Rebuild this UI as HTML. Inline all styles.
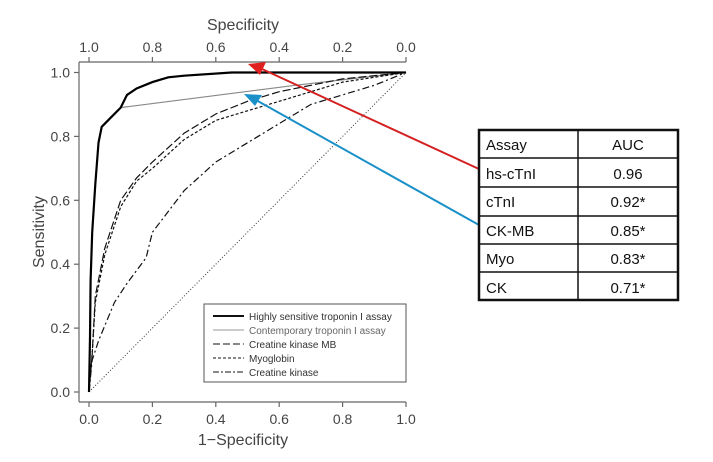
<!DOCTYPE html>
<html><head><meta charset="utf-8"><style>
body{margin:0;background:#fff;width:713px;height:457px;overflow:hidden;font-family:"Liberation Sans",sans-serif}
</style></head><body>
<svg id="s" width="713" height="457" viewBox="0 0 713 457" xmlns="http://www.w3.org/2000/svg" font-family="Liberation Sans, sans-serif">
<rect width="713" height="457" fill="#fff"/>
<g stroke="#666" stroke-width="1.2" fill="none">
<line x1="79" y1="62" x2="406" y2="62"/>
<line x1="79" y1="62" x2="79" y2="402"/>
<line x1="79" y1="402" x2="406" y2="402"/>
</g>
<g id="ticks" stroke="#666" stroke-width="1.2"></g>
<g id="labels" fill="#444" font-size="14"></g>
<text x="243" y="30" font-size="16" fill="#444" text-anchor="middle">Specificity</text>
<text x="243" y="445" font-size="16" fill="#444" text-anchor="middle">1−Specificity</text>
<text transform="translate(44,232) rotate(-90)" font-size="16" fill="#444" text-anchor="middle">Sensitivity</text>
<g id="curves" fill="none"></g>
<rect x="204" y="304" width="202" height="78" fill="#fff" stroke="#555" stroke-width="1"/>
<g stroke="#111" fill="none">
<line x1="213" y1="316" x2="244" y2="316" stroke-width="2"/>
<line x1="213" y1="330" x2="244" y2="330" stroke="#999" stroke-width="1"/>
<line x1="213" y1="344" x2="244" y2="344" stroke-dasharray="7,3"/>
<line x1="213" y1="358" x2="244" y2="358" stroke-dasharray="3,2"/>
<line x1="213" y1="372" x2="244" y2="372" stroke-dasharray="6,2,2,2"/>
</g>
<g font-size="10" fill="#333">
<text x="249" y="320">Highly sensitive troponin I assay</text>
<text x="249" y="334" fill="#666">Contemporary troponin I assay</text>
<text x="249" y="348">Creatine kinase MB</text>
<text x="249" y="362">Myoglobin</text>
<text x="249" y="376">Creatine kinase</text>
</g>
<line x1="479" y1="169" x2="262" y2="69" stroke="#d42020" stroke-width="2"/>
<polygon points="248,64 266,62 260,75" fill="#e02020"/>
<line x1="479" y1="225" x2="256" y2="100" stroke="#1a90c8" stroke-width="2"/>
<polygon points="244,94 262,95 255,106" fill="#1a90c8"/>
<g stroke="#111" fill="none">
<rect x="479" y="130" width="199" height="170" stroke-width="2.5"/>
<line x1="578" y1="130" x2="578" y2="300" stroke-width="1.5"/>
<line x1="479" y1="158" x2="678" y2="158" stroke-width="1.5"/>
<line x1="479" y1="187" x2="678" y2="187" stroke-width="1.5"/>
<line x1="479" y1="216" x2="678" y2="216" stroke-width="1.5"/>
<line x1="479" y1="244" x2="678" y2="244" stroke-width="1.5"/>
<line x1="479" y1="272" x2="678" y2="272" stroke-width="1.5"/>
</g>
<g font-size="15" fill="#111">
<text x="486" y="150">Assay</text><text x="628" y="150" text-anchor="middle">AUC</text>
<text x="486" y="179">hs-cTnI</text><text x="628" y="179" text-anchor="middle">0.96</text>
<text x="486" y="207">cTnI</text><text x="628" y="207" text-anchor="middle">0.92*</text>
<text x="486" y="236">CK-MB</text><text x="628" y="236" text-anchor="middle">0.85*</text>
<text x="486" y="264">Myo</text><text x="628" y="264" text-anchor="middle">0.83*</text>
<text x="486" y="293">CK</text><text x="628" y="293" text-anchor="middle">0.71*</text>
</g>
</svg>
<script>
var NS="http://www.w3.org/2000/svg";
function X(f){return 89+317*f}function Y(f){return 392-319.5*f}
function el(p,t,a,txt){var e=document.createElementNS(NS,t);for(var k in a)e.setAttribute(k,a[k]);if(txt)e.textContent=txt;document.getElementById(p).appendChild(e);}
for(var i=0;i<=5;i++){var v=i*0.2,s=v.toFixed(1);
el("ticks","line",{x1:X(v),y1:402,x2:X(v),y2:407});
el("ticks","line",{x1:X(v),y1:62,x2:X(v),y2:57});
el("ticks","line",{x1:79,y1:Y(v),x2:74,y2:Y(v)});
el("labels","text",{x:X(v),y:424,"text-anchor":"middle"},s);
el("labels","text",{x:X(v),y:52,"text-anchor":"middle"},(1-v).toFixed(1));
el("labels","text",{x:70,y:Y(v)+5,"text-anchor":"end"},s);}
function P(d){return d.map(function(p){return X(p[0]).toFixed(1)+","+Y(p[1]).toFixed(1)}).join(" ")}
var base=[[0,0],[0.003,0.17],[0.005,0.35],[0.01,0.5],[0.02,0.65],[0.03,0.78],[0.04,0.83],[0.07,0.86],[0.1,0.89]];
el("curves","polyline",{points:P([[0,0],[1,1]]),stroke:"#333","stroke-width":1,"stroke-dasharray":"1,2"});
el("curves","polyline",{points:P(base.concat([[0.65,0.96],[1,1]])),stroke:"#888","stroke-width":1.2});
el("curves","polyline",{points:P([[0,0],[0.01,0.12],[0.02,0.3],[0.05,0.45],[0.1,0.6],[0.15,0.67],[0.2,0.72],[0.3,0.81],[0.4,0.87],[0.5,0.91],[0.6,0.94],[0.7,0.96],[0.8,0.98],[1,1]]),stroke:"#111","stroke-width":1.2,"stroke-dasharray":"8,3"});
el("curves","polyline",{points:P([[0,0],[0.01,0.12],[0.02,0.28],[0.05,0.43],[0.1,0.58],[0.15,0.66],[0.2,0.7],[0.3,0.79],[0.4,0.85],[0.5,0.88],[0.6,0.91],[0.7,0.94],[0.8,0.97],[1,1]]),stroke:"#111","stroke-width":1.2,"stroke-dasharray":"3,2"});
el("curves","polyline",{points:P([[0,0],[0.01,0.1],[0.03,0.16],[0.08,0.28],[0.12,0.34],[0.18,0.42],[0.2,0.5],[0.3,0.63],[0.4,0.72],[0.5,0.78],[0.6,0.84],[0.7,0.9],[0.8,0.93],[0.9,0.96],[1,1]]),stroke:"#111","stroke-width":1.2,"stroke-dasharray":"7,3,2,3"});
el("curves","polyline",{points:P(base.concat([[0.12,0.93],[0.15,0.95],[0.2,0.97],[0.25,0.985],[0.3,0.99],[0.45,1],[1,1]])),stroke:"#000","stroke-width":2.2});
</script>
</body></html>
